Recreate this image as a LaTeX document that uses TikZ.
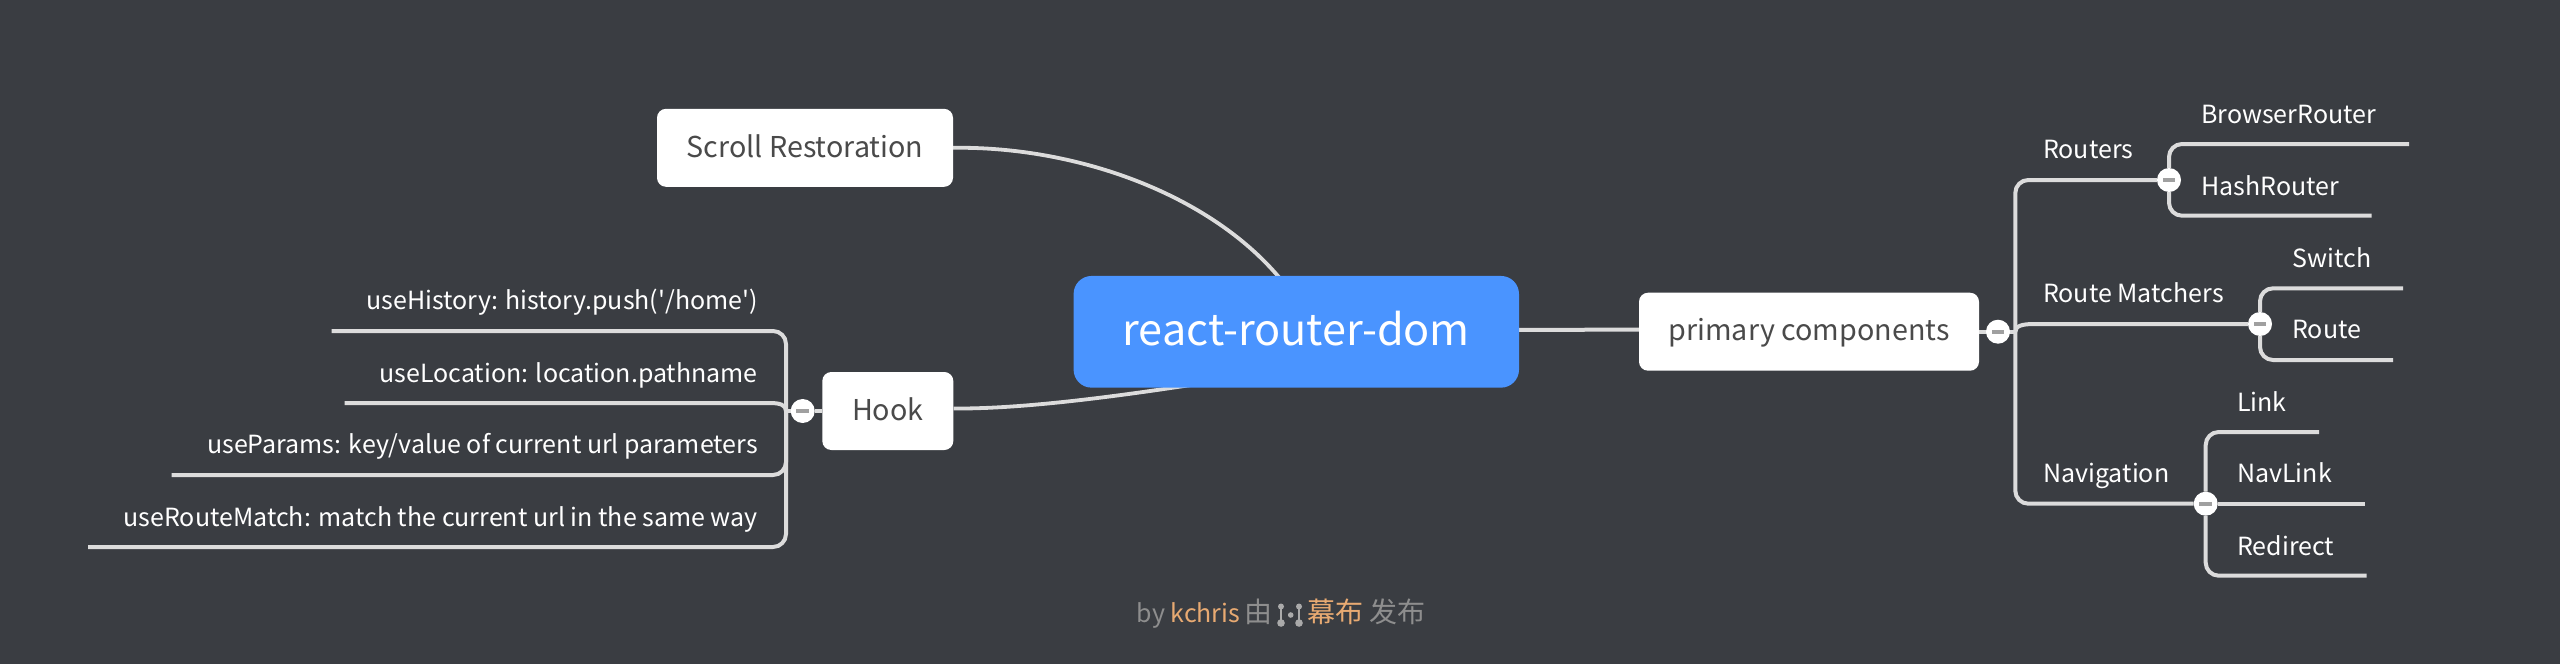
\documentclass[tikz,border=0pt]{standalone}
\usepackage{fontspec}
\setmainfont{Noto Sans CJK SC}[Ligatures=TeXOff]
\usetikzlibrary{backgrounds}
\definecolor{bgdark}{RGB}{58,61,66}
\definecolor{linegrey}{RGB}{220,220,220}
\definecolor{rootblue}{RGB}{74,148,255}
\definecolor{boxtext}{RGB}{74,74,74}
\definecolor{footgrey}{RGB}{142,142,142}
\definecolor{footorange}{RGB}{232,170,114}
\definecolor{minusgrey}{RGB}{160,160,160}
\definecolor{icongrey}{RGB}{170,170,170}
\tikzset{
  x=1pt,y=-1pt,
  link/.style={draw=linegrey,line width=4pt,line cap=butt},
  bracket/.style={link,rounded corners=13pt},
  curvelink/.style={draw=linegrey,line width=3.8pt},
  topicbox/.style={fill=white,rounded corners=9pt,inner sep=0pt,text=boxtext,text height=22pt,text depth=3.5pt,font=\fontsize{28.7}{32}\selectfont},
  rootbox/.style={fill=rootblue,rounded corners=18pt,inner sep=0pt,text=white,text height=33.5pt,text depth=6.5pt,font=\fontsize{43.2}{48}\selectfont},
  leafl/.style={anchor=base west,inner sep=0pt,text=white,font=\fontsize{25}{28}\selectfont},
  leafr/.style={anchor=base east,inner sep=0pt,text=white,font=\fontsize{25}{28}\selectfont},
  foot/.style={anchor=base west,inner sep=0pt,font=\fontsize{25}{30}\selectfont},
  footcjk/.style={anchor=base west,inner sep=0pt,font=\fontsize{28}{30}\selectfont},
  dot/.style={circle,fill=white,inner sep=0pt,minimum size=24pt,
    path picture={\fill[minusgrey] ([xshift=-6.3pt,yshift=-1.8pt]path picture bounding box.center) rectangle ([xshift=6.3pt,yshift=1.8pt]path picture bounding box.center);}},
}
\begin{document}
\begin{tikzpicture}
\useasboundingbox (0,0) rectangle (2560,664);
% boxes
\node[rootbox,minimum width=445.4pt,minimum height=111.7pt] (root) at (1296.3,331.8) {react-router-dom};
\node[topicbox,minimum width=296pt,minimum height=78pt] (scroll) at (805,147.8) {Scroll Restoration};
\node[topicbox,minimum width=131pt,minimum height=78pt] (hook) at (887.8,411) {Hook};
\node[topicbox,minimum width=340pt,minimum height=78pt] (pc) at (1809,331.7) {primary components};
% dots
\node[dot] (pcDot) at (1998,331.7) {};
\node[dot] (rtDot) at (2169,180) {};
\node[dot] (rmDot) at (2260,324) {};
\node[dot] (navDot) at (2205.7,503.7) {};
\node[dot] (hookDot) at (802.7,411) {};
% junctions and free ends
\coordinate (trunk) at (2015.3,331.7);
\coordinate (ltrunk) at (786,411);
\coordinate (brE) at (2409,144);
\coordinate (haE) at (2371.7,215.7);
\coordinate (swE) at (2403,288.3);
\coordinate (roE) at (2393,360);
\coordinate (liE) at (2319,432);
\coordinate (nlE) at (2364.7,503.7);
\coordinate (reE) at (2366.7,575.7);
\coordinate (l1E) at (331.7,331);
\coordinate (l2E) at (344.7,403);
\coordinate (l3E) at (171.7,475);
\coordinate (l4E) at (88,547);
% labels
\node[leafl] (tRouters) at (2043,158.5) {Routers};
\node[leafl] (tMatchers) at (2043,302.5) {Route Matchers};
\node[leafl] (tNav) at (2043,482.5) {Navigation};
\node[leafl] (tBrowser) at (2201,123.2) {BrowserRouter};
\node[leafl] (tHash) at (2201,195.5) {HashRouter};
\node[leafl] (tSwitch) at (2292.5,267.2) {Switch};
\node[leafl] (tRoute) at (2292,338.5) {Route};
\node[leafl] (tLink) at (2237,411.2) {Link};
\node[leafl] (tNavLink) at (2237,482.5) {NavLink};
\node[leafl] (tRedirect) at (2237,555.5) {Redirect};
\node[leafr] (tL1) at (758,309.8) {useHistory: history.push('/home')};
\node[leafr] (tL2) at (758,382.2) {useLocation: location.pathname};
\node[leafr] (tL3) at (758,453.9) {useParams: key/value of current url parameters};
\node[leafr] (tL4) at (758,526.2) {useRouteMatch: match the current url in the same way};
% footer
\node[foot,text=footgrey] (fBy) at (1136.7,622) {by};
\node[foot,text=footorange] (fName) at (1170.5,622) {kchris};
\node[footcjk,text=footgrey] (fYou) at (1244,622.5) {由};
\node[footcjk,text=footorange] (fMubu) at (1307,622.5) {幕布};
\node[footcjk,text=footgrey] (fPub) at (1369,622.5) {发布};
\begin{scope}[icongrey]
\fill (1281,606.5) circle (3pt);
\fill (1281,623) circle (3.8pt);
\draw[line width=1.8pt] (1281,606.5) -- (1281,623);
\fill (1290.7,615) circle (2.8pt);
\fill (1299,606.5) circle (3pt);
\fill (1299,623) circle (3.8pt);
\draw[line width=1.8pt] (1299,606.5) -- (1299,623);
\end{scope}
% everything behind
\begin{scope}[on background layer]
\fill[bgdark] (0,0) rectangle (2560,664);
\draw[curvelink] (scroll.east) .. controls (1090,146) and (1240,205) .. ([xshift=6pt,yshift=22pt]root.center);
\draw[curvelink] ([yshift=2.5pt]hook.east) .. controls (1020,409) and (1120,398) .. ([yshift=-36pt]root.center);
\draw[link] ([yshift=2pt]root.east) -- ([yshift=2pt]pc.west);
\draw[link] (pc.east) -- (trunk);
\draw[bracket] (rtDot) -| (trunk) |- (navDot);
\draw[link] (trunk) .. controls (2015.3,326) and (2022,324) .. (2034,324) -- (rmDot);
\draw[bracket] (brE) -| (rtDot) |- (haE);
\draw[bracket] (swE) -| (rmDot) |- (roE);
\draw[bracket] (liE) -| (navDot) |- (reE);
\draw[link] (navDot) -- (nlE);
\draw[link] (ltrunk) -- (hookDot) -- (hook.west);
\draw[bracket] (l1E) -| (ltrunk) |- (l4E);
\draw[link] (l2E) -- (770,403) .. controls (780,403) and (786,405) .. (ltrunk);
\draw[bracket] (l3E) -| (ltrunk);
\end{scope}
\end{tikzpicture}
\end{document}
